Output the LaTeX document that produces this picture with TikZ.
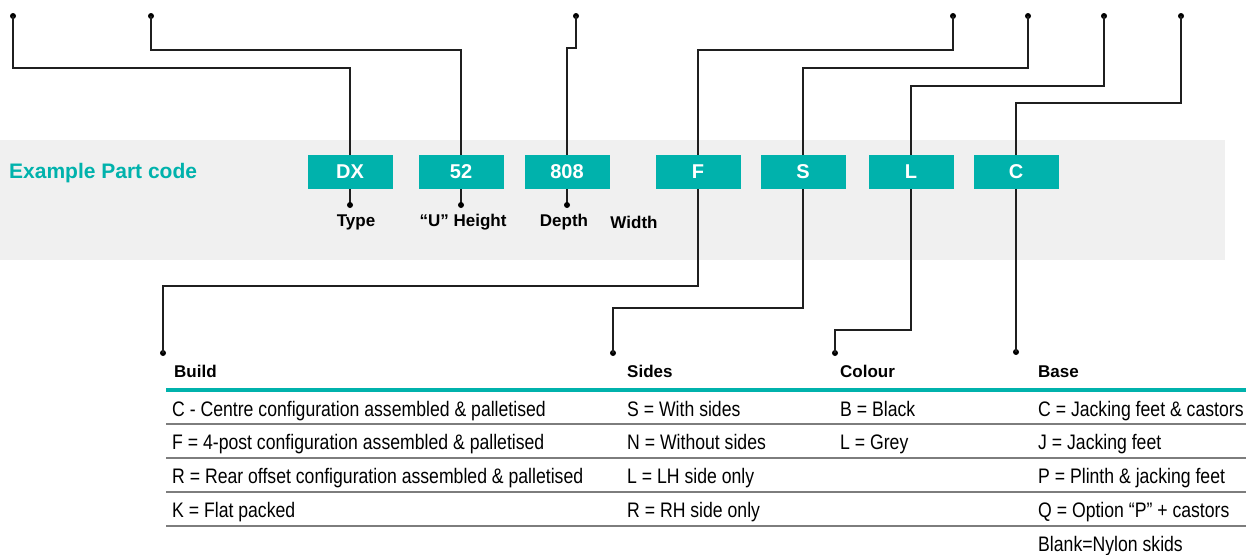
\documentclass[tikz,border=0pt]{standalone}
\usepackage{fontspec}
\setmainfont{Liberation Sans}
\newfontfamily\condfont{Liberation Sans}[FakeStretch=0.84]
\usetikzlibrary{positioning}
\definecolor{partteal}{RGB}{0,178,172}
\definecolor{bandgrey}{RGB}{240,240,240}
\definecolor{rulegrey}{RGB}{125,125,125}
\tikzset{
    codebox/.style={fill=partteal, text=white, minimum width=85pt, minimum height=34pt, inner sep=0pt, font=\fontsize{20}{24}\selectfont\bfseries},
    lead/.style={draw=black!88, line width=1.4pt},
    labeltext/.style={inner sep=0pt, font=\fontsize{17}{20}\selectfont\bfseries},
    headtext/.style={anchor=base west, inner sep=0pt, font=\fontsize{17}{20}\selectfont\bfseries},
    celltext/.style={anchor=base west, inner sep=0pt, font=\condfont\fontsize{21}{25}\selectfont}
}
\begin{document}
\begin{tikzpicture}[x=1pt, y=-1pt]
    \useasboundingbox (0,0) rectangle (1246,554);
    \fill[bandgrey] (0,140) rectangle (1225,260);
    \node[anchor=west, inner sep=0pt, text=partteal, font=\fontsize{21}{25}\selectfont\bfseries] (title) at (9,173) {Example Part code};

    \foreach \n/\x/\t in {dx/350/DX, u52/461/52, d808/567/808, bF/698/F, bS/803/S, bL/911/L, bC/1016/C}
        \node[codebox] (\n) at (\x,172) {\t};

    \foreach \n/\x in {t1/13, t2/151, t3/576, t4/953, t5/1028, t6/1104, t7/1181} {
        \coordinate (\n) at (\x,16);
        \fill (\n) circle (3pt);
    }
    \foreach \n/\x/\y in {b1/163/353, b2/613/353, b3/835/353, b4/1016/352} {
        \coordinate (\n) at (\x,\y);
        \fill (\n) circle (3pt);
    }

    \draw[lead] (t1) -- ++(0,52) -| (dx.north);
    \draw[lead] (t2) -- ++(0,34) -| (u52.north);
    \draw[lead] (t3) -- ++(0,32) -| (d808.north);
    \draw[lead] (t4) -- ++(0,34) -| (bF.north);
    \draw[lead] (t5) -- ++(0,52) -| (bS.north);
    \draw[lead] (t6) -- ++(0,70) -| (bL.north);
    \draw[lead] (t7) -- ++(0,87) -| (bC.north);

    \draw[lead] (bF.south) -- (bF.south |- 0,286) -| (b1);
    \draw[lead] (bS.south) -- (bS.south |- 0,308) -| (b2);
    \draw[lead] (bL.south) -- (bL.south |- 0,330) -| (b3);
    \draw[lead] (bC.south) -- (b4);

    \foreach \n/\b in {s1/dx, s2/u52, s3/d808} {
        \coordinate (\n) at (\b.south |- 0,205);
        \draw[lead] (\b.south) -- (\n);
        \fill (\n) circle (3pt);
    }
    \node[labeltext] (type) at (356,222) {Type};
    \node[labeltext] (height) at (463,222) {“U” Height};
    \node[labeltext] (depth) at (564,222) {Depth};
    \node[labeltext] (width) at (634,222) {Width};

    \node[headtext] (build) at (174,377) {Build};
    \node[headtext] (sides) at (627,377) {Sides};
    \node[headtext] (colour) at (840,377) {Colour};
    \node[headtext] (base) at (1038,377) {Base};
    \draw[partteal, line width=4pt] (166,390) -- (1246,390);
    \foreach \y in {424, 458, 492, 526}
        \draw[rulegrey, line width=1.5pt] (166,\y) -- (1246,\y);

    \foreach \t [count=\r] in {C - Centre configuration assembled \& palletised, F = 4-post configuration assembled \& palletised, R = Rear offset configuration assembled \& palletised, K = Flat packed}
        \node[celltext] (build-\r) at (172,{416+(\r-1)*33.8}) {\t};
    \foreach \t [count=\r] in {S = With sides, N = Without sides, L = LH side only, R = RH side only}
        \node[celltext] (sides-\r) at (627,{416+(\r-1)*33.8}) {\t};
    \foreach \t [count=\r] in {B = Black, L = Grey}
        \node[celltext] (colour-\r) at (840,{416+(\r-1)*33.8}) {\t};
    \foreach \t [count=\r] in {C = Jacking feet \& castors, J = Jacking feet, P = Plinth \& jacking feet, Q = Option “P” + castors, Blank=Nylon skids}
        \node[celltext] (base-\r) at (1038,{416+(\r-1)*33.8}) {\t};
\end{tikzpicture}
\end{document}
